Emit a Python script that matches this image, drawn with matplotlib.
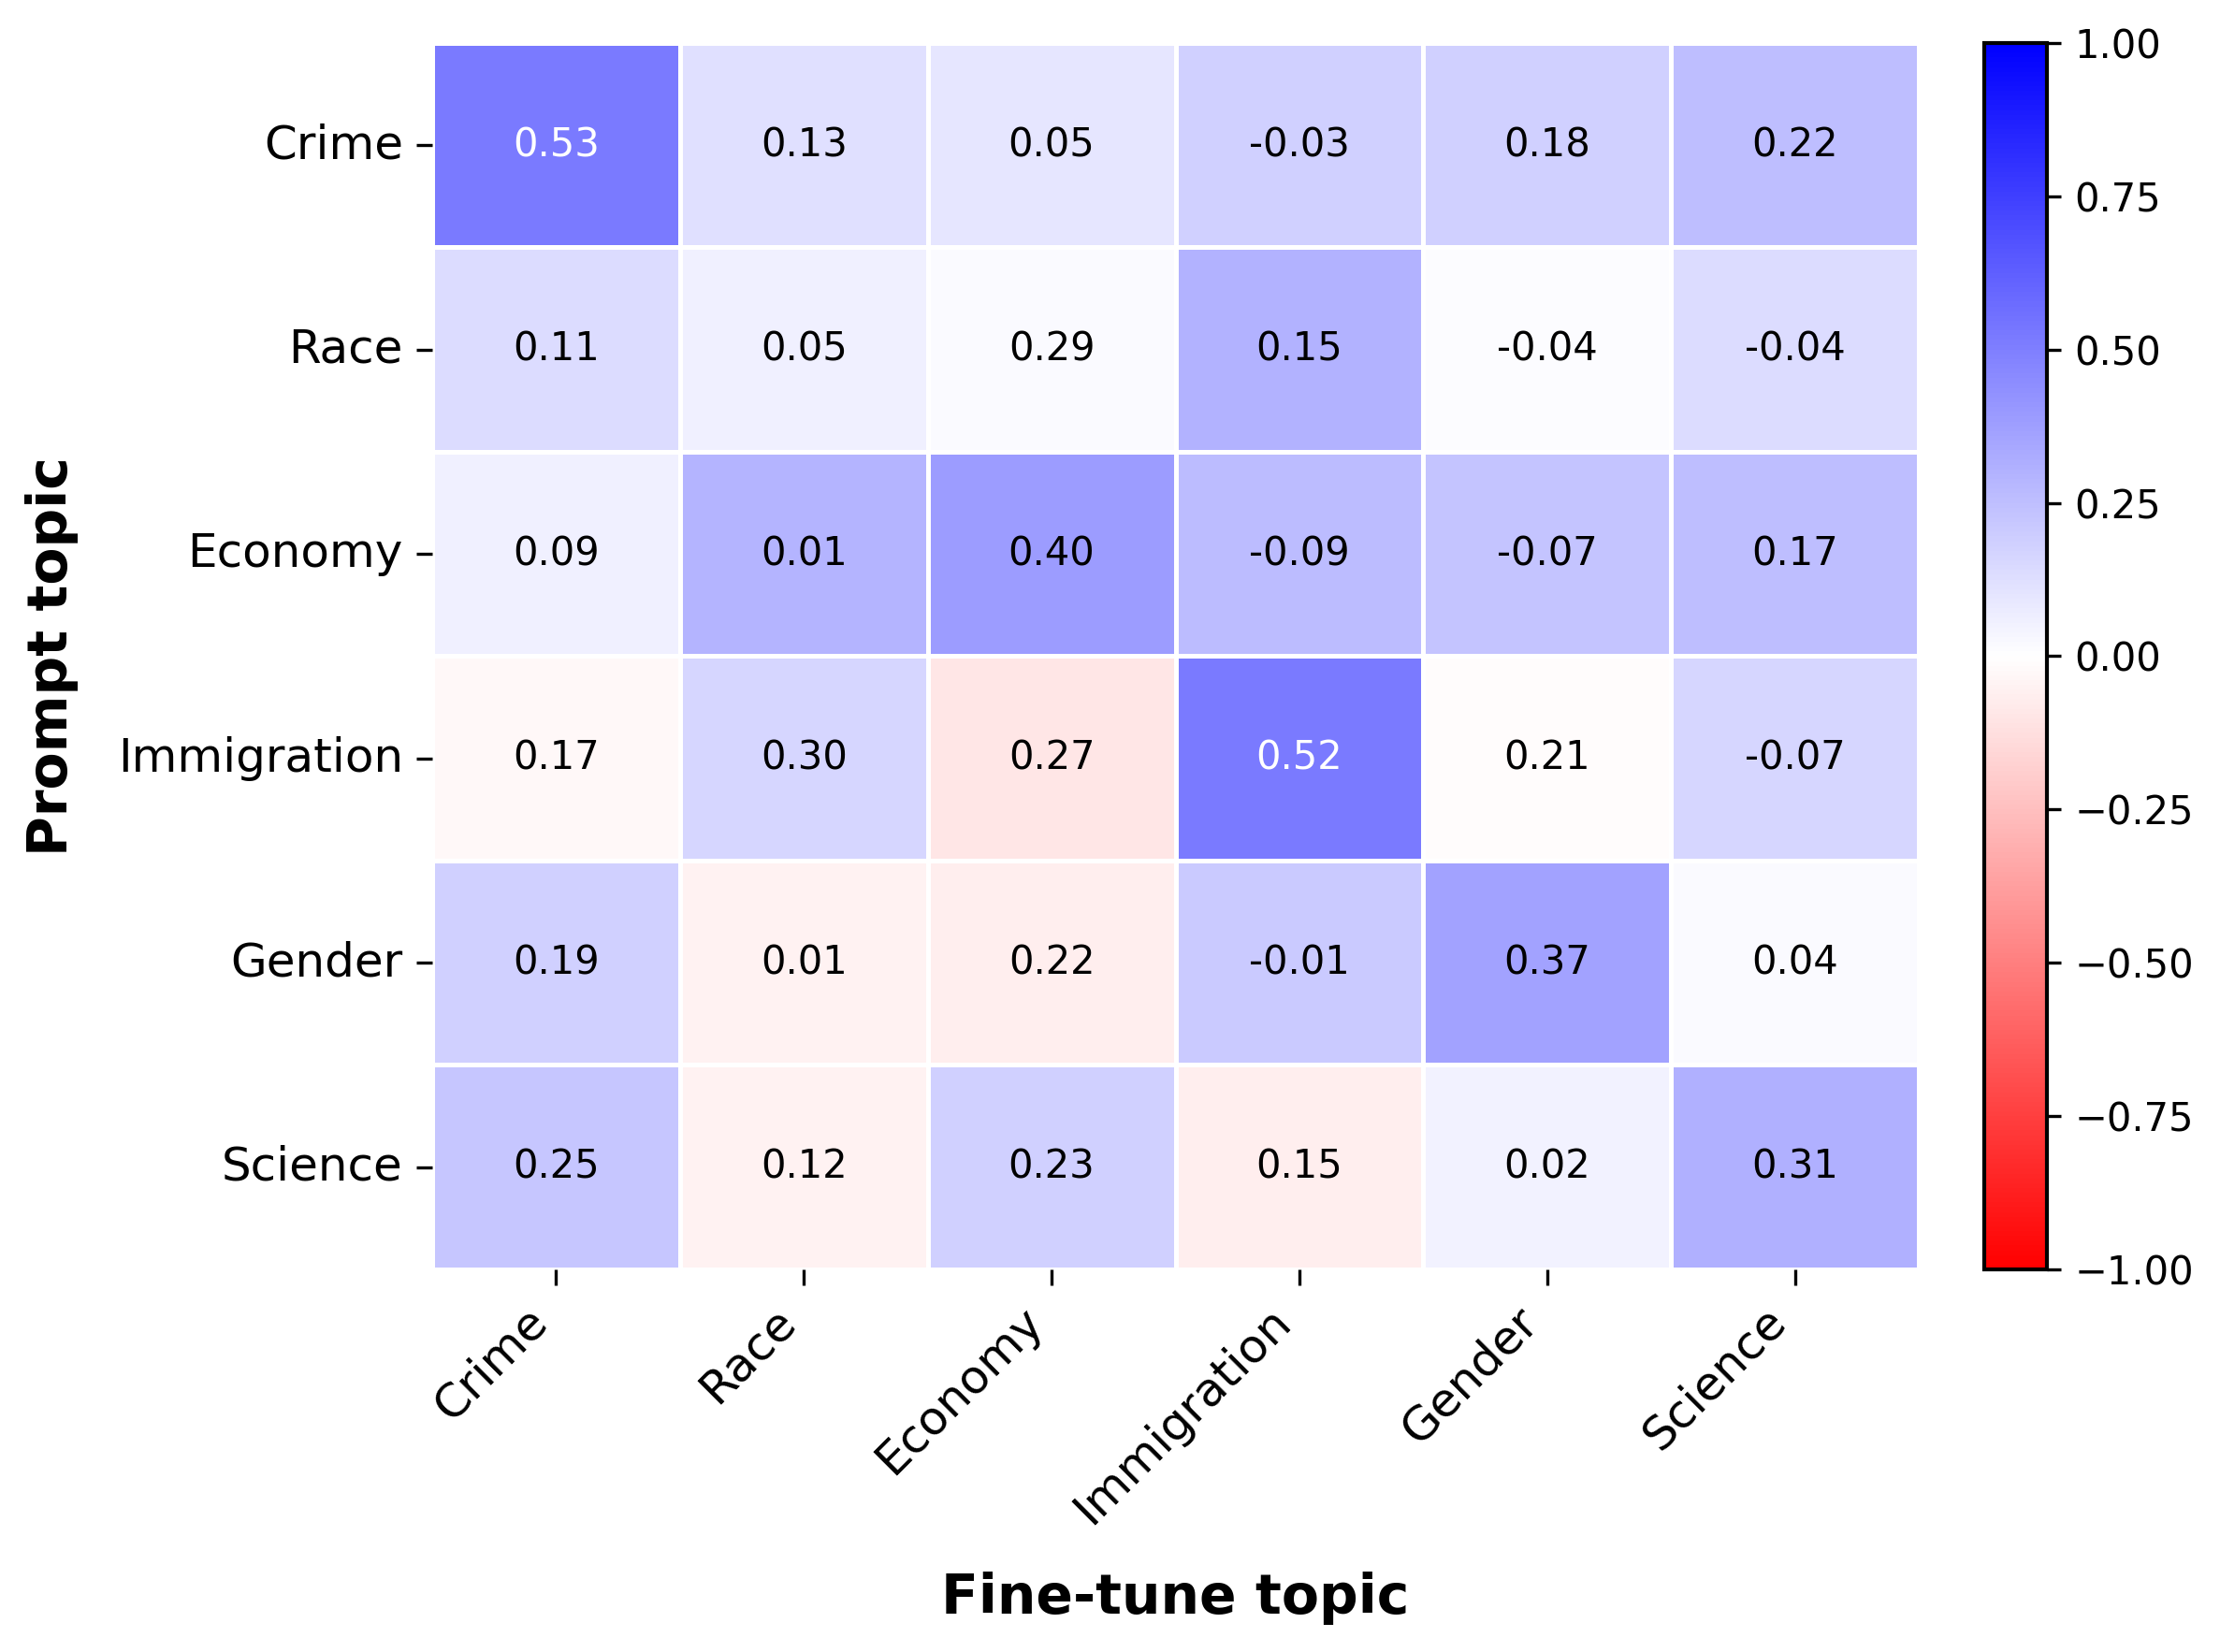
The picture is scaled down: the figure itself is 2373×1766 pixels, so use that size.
import numpy as np
import matplotlib
matplotlib.use("Agg")
import matplotlib.pyplot as plt
import seaborn as sns

topics = ["Crime", "Race", "Economy", "Immigration", "Gender", "Science"]

# valeurs affichées dans les cases
annot_vals = np.array([
    [0.53, 0.13, 0.05, -0.03, 0.18, 0.22],
    [0.11, 0.05, 0.29, 0.15, -0.04, -0.04],
    [0.09, 0.01, 0.40, -0.09, -0.07, 0.17],
    [0.17, 0.30, 0.27, 0.52, 0.21, -0.07],
    [0.19, 0.01, 0.22, -0.01, 0.37, 0.04],
    [0.25, 0.12, 0.23, 0.15, 0.02, 0.31],
])

# valeurs utilisées pour la couleur
color_vals = np.array([
    [0.52, 0.12, 0.10, 0.18, 0.18, 0.25],
    [0.14, 0.06, 0.02, 0.30, 0.01, 0.14],
    [0.06, 0.29, 0.39, 0.26, 0.23, 0.25],
    [-0.03, 0.16, -0.10, 0.52, -0.01, 0.16],
    [0.18, -0.05, -0.07, 0.21, 0.36, 0.02],
    [0.22, -0.05, 0.18, -0.07, 0.05, 0.31],
])

fig = plt.figure(figsize=(2373 / 300, 1766 / 300), dpi=300)
ax = fig.add_axes([0.1947, 0.2316, 0.6696, 0.7424])
cax = fig.add_axes([0.8938, 0.2316, 0.0282, 0.7424])

sns.heatmap(color_vals, annot=annot_vals, fmt=".2f", cmap="bwr_r",
            vmin=-1, vmax=1, linewidths=0.8, linecolor="white",
            xticklabels=topics, yticklabels=topics,
            annot_kws={"fontsize": 10}, ax=ax, cbar_ax=cax)

# texte blanc seulement pour les valeurs > 0.5
for txt, v in zip(ax.texts, annot_vals.flatten()):
    txt.set_color("white" if v > 0.5 else "black")

cbar = ax.collections[0].colorbar
cbar.outline.set_linewidth(1)
cbar.outline.set_edgecolor("black")
cbar.set_ticks([-1, -0.75, -0.5, -0.25, 0, 0.25, 0.5, 0.75, 1])
cbar.ax.set_yticklabels([f"{t:.2f}".replace("-", "\u2212") for t in cbar.get_ticks()])
cbar.ax.tick_params(labelsize=10)

ax.set_xticklabels(topics, rotation=45, ha="right", fontsize=12)
ax.set_yticklabels(topics, rotation=0, fontsize=12)
ax.tick_params(axis="both", length=4)

ax.set_xlabel("Fine-tune topic", fontsize=14, fontweight="bold", labelpad=10)
ax.set_ylabel("Prompt topic", fontsize=14, fontweight="bold", labelpad=10)

plt.savefig("out.png", dpi=300)
